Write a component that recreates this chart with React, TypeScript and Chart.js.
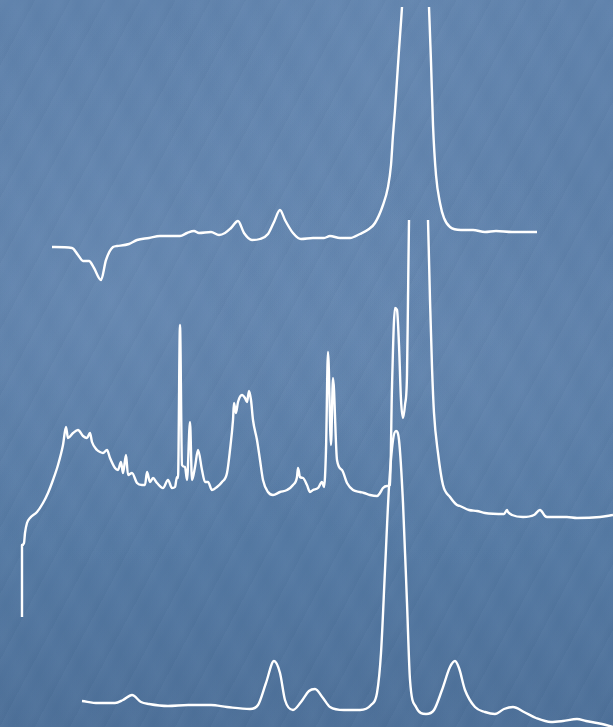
import React, { useEffect, useRef } from "react";
import { Chart, registerables } from "chart.js";

Chart.register(...registerables);

// Top spectrum (x: channel, y: offset read from top)
const topX = [52, 72, 78, 83, 89, 94, 101, 106, 113, 117, 129, 137, 149, 160, 172, 180, 187, 194, 199, 211, 219, 225, 231, 238, 244, 252, 260, 268, 274, 280, 285, 293, 301, 313, 324, 330, 340, 350, 360, 369, 375, 383, 388, 391, 393, 395, 397, 399, 402, 404, 416, 427, 429, 431, 433, 436, 440, 444, 450, 461, 473, 485, 496, 512, 537];
const topY = [247, 248, 255, 261, 261, 268, 280, 260, 247, 246, 244, 240, 238, 236, 236, 236, 233, 231, 233, 232, 235, 233, 228, 221, 233, 240, 239, 234, 222, 210, 220, 233, 239, 238, 238, 236, 238, 238, 234, 229, 223, 205, 187, 165, 135, 110, 80, 50, 7, -30, -70, -30, 7, 62, 125, 175, 203, 218, 227, 230, 230, 232, 231, 232, 232];

// Middle spectrum
const midX = [22, 22, 24, 25, 27, 30, 37, 43, 48, 53, 58, 63, 66, 68, 73, 78, 83, 87, 90, 92, 97, 100, 103, 107, 110, 115, 118, 121, 123, 126, 128, 132, 137, 142, 145, 147, 150, 153, 157, 163, 168, 172, 175, 177, 178, 180, 182, 185, 187, 190, 192, 195, 198, 202, 205, 208, 212, 217, 222, 227, 230, 233, 234, 236, 238, 242, 245, 247, 249, 251, 253, 257, 260, 263, 268, 273, 280, 287, 293, 297, 298, 300, 303, 307, 310, 313, 318, 322, 324, 326, 328, 331, 333, 337, 342, 347, 353, 360, 364, 370, 377, 380, 383, 387, 390, 392, 395, 397, 399, 401, 403, 405, 407, 408, 409, 411, 418, 426, 428, 430, 432, 434, 438, 443, 450, 457, 460, 469, 477, 485, 504, 507, 508, 512, 523, 534, 540, 545, 547, 567, 577, 600, 613];
const midY = [617, 545, 543, 533, 523, 518, 512, 503, 493, 480, 465, 445, 427, 438, 433, 430, 436, 438, 433, 442, 450, 452, 453, 450, 458, 468, 470, 462, 473, 455, 475, 473, 483, 485, 485, 472, 482, 478, 483, 488, 480, 488, 487, 477, 478, 325, 465, 467, 480, 422, 480, 467, 450, 470, 482, 482, 490, 487, 482, 473, 450, 420, 403, 413, 402, 395, 398, 402, 391, 400, 420, 440, 460, 480, 492, 495, 492, 490, 485, 477, 468, 477, 478, 485, 492, 490, 488, 482, 487, 450, 352, 445, 378, 460, 470, 483, 490, 492, 493, 495, 496, 493, 488, 486, 485, 387, 308, 310, 345, 400, 418, 405, 375, 300, 220, 170, 130, 170, 220, 300, 367, 413, 453, 485, 497, 505, 506, 510, 511, 513, 514, 510, 512, 515, 517, 515, 510, 516, 517, 517, 518, 517, 515];

// Bottom spectrum
const botX = [82, 98, 115, 123, 132, 141, 149, 168, 188, 211, 227, 250, 258, 266, 274, 280, 285, 293, 301, 309, 315, 323, 330, 344, 360, 371, 377, 381, 385, 389, 393, 396, 399, 403, 407, 410, 416, 426, 434, 442, 450, 455, 459, 465, 475, 485, 495, 504, 513, 524, 536, 551, 563, 577, 586, 602, 613];
const botY = [701, 703, 703, 700, 695, 702, 704, 706, 705, 705, 707, 709, 705, 683, 661, 673, 700, 710, 702, 691, 689, 698, 707, 710, 710, 705, 693, 653, 570, 487, 440, 431, 440, 503, 603, 680, 707, 714, 710, 690, 667, 661, 668, 690, 707, 712, 714, 709, 707, 712, 718, 722, 721, 719, 721, 724, 727];

const toPoints = (xs: number[], ys: number[]) => xs.map((x, i) => ({ x, y: ys[i] }));

export default function App() {
  const ref = useRef<HTMLCanvasElement | null>(null);

  useEffect(() => {
    if (!ref.current) return;
    const common = {
      borderColor: "#ffffff",
      borderWidth: 2.4,
      pointRadius: 0,
      fill: false,
      borderJoinStyle: "round" as const,
      borderCapStyle: "butt" as const,
      cubicInterpolationMode: "monotone" as const,
    };
    const chart = new Chart(ref.current, {
      type: "line",
      data: {
        datasets: [
          {
            ...common,
            data: toPoints(topX, topY),
            clip: { left: 0, right: 0, bottom: 0, top: -7 },
          } as any,
          {
            ...common,
            data: toPoints(midX, midY),
            clip: { left: 0, right: 0, bottom: 0, top: -220 },
          } as any,
          {
            ...common,
            data: toPoints(botX, botY),
          } as any,
        ],
      },
      options: {
        animation: false,
        responsive: false,
        maintainAspectRatio: false,
        layout: { padding: 0 },
        plugins: { legend: { display: false }, tooltip: { enabled: false } },
        events: [],
        scales: {
          x: { type: "linear", min: 0, max: 613, display: false },
          y: { type: "linear", min: 0, max: 727, reverse: true, display: false },
        },
      },
    });
    return () => chart.destroy();
  }, []);

  return (
    <div
      style={{
        position: "fixed",
        left: 0,
        top: 0,
        width: 613,
        height: 727,
        overflow: "hidden",
        background:
          "repeating-linear-gradient(118deg, rgba(255,255,255,0.018) 0px, rgba(255,255,255,0) 9px, rgba(255,255,255,0.015) 23px, rgba(0,0,0,0.012) 31px), " +
          "repeating-linear-gradient(64deg, rgba(255,255,255,0.012) 0px, rgba(0,0,0,0.01) 17px, rgba(255,255,255,0.012) 41px), " +
          "radial-gradient(ellipse at 20% 40%, rgba(125,158,198,0.3), rgba(125,158,198,0) 45%), " +
          "radial-gradient(ellipse at 75% 50%, rgba(125,158,198,0.22), rgba(125,158,198,0) 40%), " +
          "radial-gradient(ellipse at 60% 12%, rgba(125,158,198,0.2), rgba(125,158,198,0) 40%), " +
          "linear-gradient(180deg, #5f82ac 0%, #5b7ea8 45%, #5479a3 75%, #4d7099 100%)",
      }}
    >
      <canvas ref={ref} width={613} height={727} style={{ display: "block" }} />
    </div>
  );
}
